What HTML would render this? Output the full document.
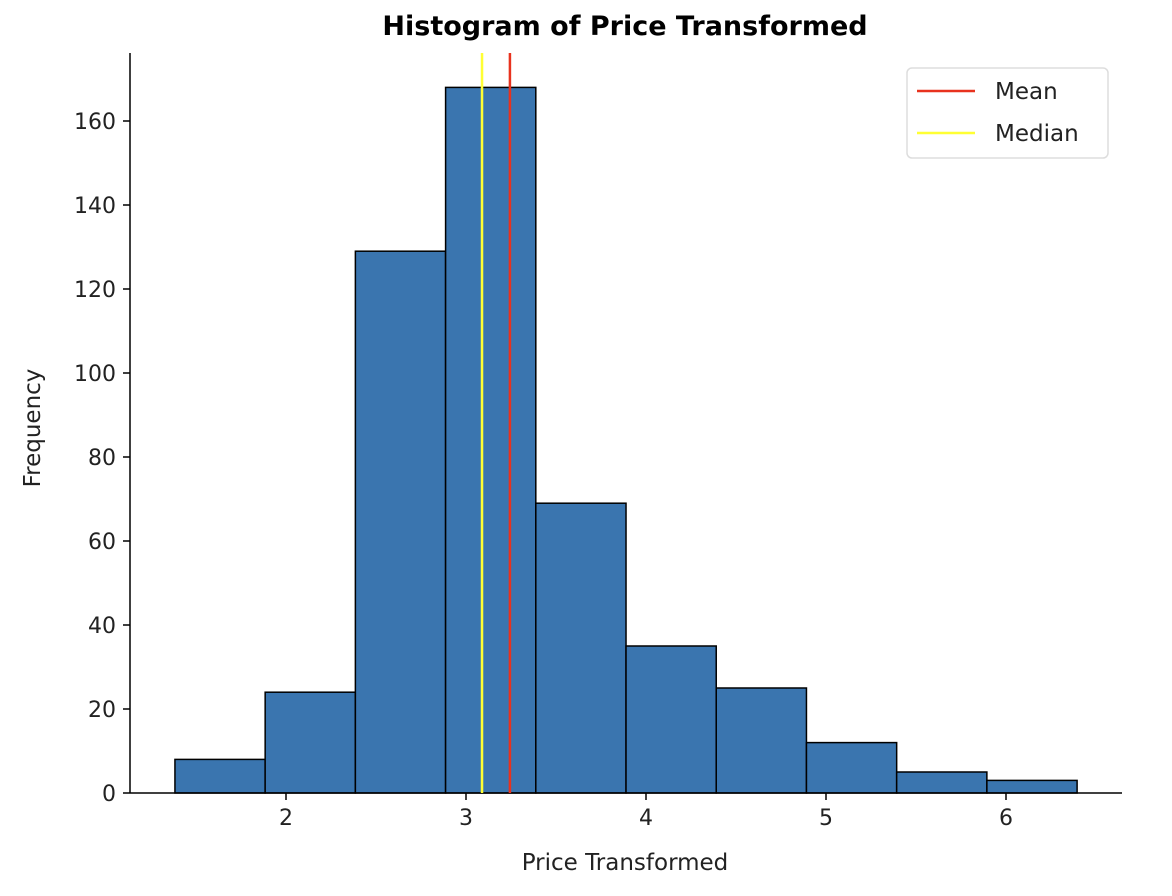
<!DOCTYPE html>
<html><head><meta charset="utf-8"><style>
body{margin:0;background:#fff;}
svg{display:block;font-family:"DejaVu Sans","Liberation Sans",sans-serif;}
</style></head><body>
<svg id="chart" width="1172" height="896">
<text x="625" y="35" text-anchor="middle" font-size="27" font-weight="bold" fill="#000">Histogram of Price Transformed</text>
<g id="bars"></g>
<g id="xticks"></g>
<g id="yticks"></g>
<line x1="130" y1="53" x2="130" y2="793" stroke="#000" stroke-width="1.5"/>
<line x1="130" y1="793" x2="1122" y2="793" stroke="#000" stroke-width="1.5"/>
<text x="625" y="870" text-anchor="middle" font-size="23" fill="#222">Price Transformed</text>
<text transform="translate(40,428) rotate(-90)" text-anchor="middle" font-size="23" fill="#222">Frequency</text>
<g>
<rect x="907" y="68" width="201" height="90" rx="5" fill="#fff" stroke="#ddd" stroke-width="1.5"/>
<line x1="917" y1="91" x2="975" y2="91" stroke="#e8321e" stroke-width="2.5"/>
<text x="995" y="99" font-size="23" fill="#222">Mean</text>
<line x1="917" y1="133" x2="975" y2="133" stroke="#ffff33" stroke-width="2.5"/>
<text x="995" y="141" font-size="23" fill="#222">Median</text>
</g>
</svg>
<script>
const binStart = 1.383;
const binWidth = 0.5012;
const counts = [8, 24, 129, 168, 69, 35, 25, 12, 5, 3];
const xTickLabels = [2, 3, 4, 5, 6];
const yTickLabels = [0, 20, 40, 60, 80, 100, 120, 140, 160];
const meanValue = 3.244;
const medianValue = 3.089;

const NS = "http://www.w3.org/2000/svg";
function xs(v){ return 286 + (v - 2) * 180; }
function ys(v){ return 793 - v * 4.2; }
function mk(tag, attrs, parent){
  const e = document.createElementNS(NS, tag);
  for (const k in attrs) e.setAttribute(k, attrs[k]);
  parent.appendChild(e); return e;
}
const svg = document.getElementById('chart');
const bars = document.getElementById('bars');
counts.forEach((c, i) => {
  const x0 = xs(binStart + i * binWidth), x1 = xs(binStart + (i + 1) * binWidth);
  const r = mk('rect', {x: x0, y: ys(c), width: x1 - x0, height: ys(0) - ys(c), fill: '#3a75af', stroke: '#000', 'stroke-width': 1.5}, bars);
  
  
});
const xt = document.getElementById('xticks');
xTickLabels.forEach(v => {
  const l = mk('line', {x1: xs(v), x2: xs(v), y1: 793, y2: 800, stroke: '#000', 'stroke-width': 1.5}, xt);
  
  
  const t = mk('text', {x: xs(v), y: 825, 'text-anchor': 'middle', 'font-size': 22, fill: '#222'}, xt);
  t.textContent = v;
  
  
});
const yt = document.getElementById('yticks');
yTickLabels.forEach(v => {
  const l = mk('line', {x1: 123, x2: 130, y1: ys(v), y2: ys(v), stroke: '#000', 'stroke-width': 1.5}, yt);
  
  
  const t = mk('text', {x: 116, y: ys(v) + 8, 'text-anchor': 'end', 'font-size': 22, fill: '#222'}, yt);
  t.textContent = v;
  
  
});
const ml = mk('line', {x1: xs(meanValue), x2: xs(meanValue), y1: 53, y2: 793, stroke: '#e8321e', 'stroke-width': 2.5}, svg);


const dl = mk('line', {x1: xs(medianValue), x2: xs(medianValue), y1: 53, y2: 793, stroke: '#ffff33', 'stroke-width': 2.5}, svg);


</script>
</body></html>
